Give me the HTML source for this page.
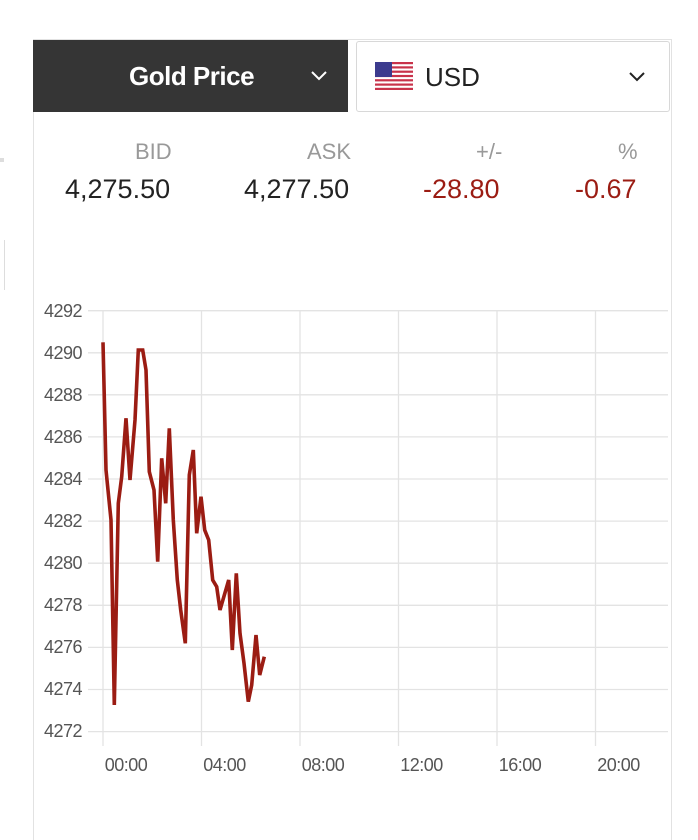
<!DOCTYPE html>
<html><head><style>
body{margin:0;width:698px;height:825px;background:#fff;font-family:"Liberation Sans",sans-serif;position:relative;overflow:hidden}
.panel{position:absolute;left:33px;top:39px;width:637px;height:800px;border:1px solid #e2e2e2;border-bottom:none}
.hdr{position:absolute;left:33px;top:40px;width:315px;height:72px;background:#353535;color:#fff}
.usd{position:absolute;left:356px;top:41px;width:312px;height:69px;border:1px solid #d8d8d8;border-radius:3px;background:#fff}
.lbl{position:absolute;font-size:22px;color:#999;top:139px}
.val{position:absolute;font-size:27px;color:#222;top:174px}
.red{color:#9b1c13}
</style></head><body>
<div style="position:absolute;left:0;top:158px;width:4px;height:4px;background:#ddd"></div>
<div style="position:absolute;left:0;top:240px;width:4px;height:50px;border-right:1px solid #ddd"></div>
<div class="panel"></div>
<div class="hdr"><span style="position:absolute;left:96px;top:21px;font-size:26px;font-weight:bold;letter-spacing:-0.5px">Gold Price</span>
<svg style="position:absolute;left:278px;top:31px" width="16" height="10"><polyline points="1,1 8,8 15,1" fill="none" stroke="#fff" stroke-width="2"/></svg></div>
<div class="usd">
<svg style="position:absolute;left:18px;top:20px" width="38" height="28"><rect width="38" height="28" fill="#fff"/><g fill="#c8324a"><rect y="0" width="38" height="2.2"/><rect y="4.3" width="38" height="2.2"/><rect y="8.6" width="38" height="2.2"/><rect y="12.9" width="38" height="2.2"/><rect y="17.2" width="38" height="2.2"/><rect y="21.5" width="38" height="2.2"/><rect y="25.8" width="38" height="2.2"/></g><rect width="17" height="15" fill="#3c3b8e"/></svg>
<span style="position:absolute;left:68px;top:20px;font-size:26px;color:#222">USD</span>
<svg style="position:absolute;left:272px;top:30px" width="16" height="10"><polyline points="1,1 8,8 15,1" fill="none" stroke="#222" stroke-width="2"/></svg></div>
<span class="lbl" style="left:135px">BID</span>
<span class="lbl" style="left:307px">ASK</span>
<span class="lbl" style="left:476px">+/-</span>
<span class="lbl" style="left:618px">%</span>
<span class="val" style="left:65px">4,275.50</span>
<span class="val" style="left:244px">4,277.50</span>
<span class="val red" style="left:423px">-28.80</span>
<span class="val red" style="left:575px">-0.67</span>
<svg style="position:absolute;left:0;top:0" width="698" height="825">
<g stroke="#e3e3e3" stroke-width="1.3">
<line x1="88" x2="668" y1="310.7" y2="310.7"/><line x1="88" x2="668" y1="352.8" y2="352.8"/><line x1="88" x2="668" y1="394.8" y2="394.8"/><line x1="88" x2="668" y1="436.9" y2="436.9"/><line x1="88" x2="668" y1="479" y2="479"/><line x1="88" x2="668" y1="521.1" y2="521.1"/><line x1="88" x2="668" y1="563.2" y2="563.2"/><line x1="88" x2="668" y1="605.3" y2="605.3"/><line x1="88" x2="668" y1="647.4" y2="647.4"/><line x1="88" x2="668" y1="689.5" y2="689.5"/><line x1="88" x2="668" y1="731.6" y2="731.6"/>
<line x1="103" x2="103" y1="310" y2="746"/><line x1="201.5" x2="201.5" y1="310" y2="746"/><line x1="300" x2="300" y1="310" y2="746"/><line x1="398.5" x2="398.5" y1="310" y2="746"/><line x1="497" x2="497" y1="310" y2="746"/><line x1="595.5" x2="595.5" y1="310" y2="746"/>
</g>
<g font-size="18" fill="#555" text-anchor="end" letter-spacing="-0.5">
<text x="82" y="317">4292</text><text x="82" y="359">4290</text><text x="82" y="401">4288</text><text x="82" y="443">4286</text><text x="82" y="485">4284</text><text x="82" y="527">4282</text><text x="82" y="569">4280</text><text x="82" y="611">4278</text><text x="82" y="653">4276</text><text x="82" y="695">4274</text><text x="82" y="737">4272</text>
</g>
<g font-size="18" fill="#555" text-anchor="middle" letter-spacing="-0.5">
<text x="126" y="771">00:00</text><text x="224.5" y="771">04:00</text><text x="323" y="771">08:00</text><text x="421.5" y="771">12:00</text><text x="520" y="771">16:00</text><text x="618.5" y="771">20:00</text>
</g>
<polyline fill="none" stroke="#9b1c13" stroke-width="3.6" stroke-linejoin="miter" points="103,342.3 106,470 111,520 114.3,705 118.3,503.3 121.7,476.7 126,418.3 130,480 135,420 138.3,350 142.7,350 146,370 149.3,471.7 154,490 157.7,561.7 161.7,458.3 165.7,503.3 169.3,428.3 173.3,520 177.3,580 180.7,610 185.3,643.3 189.3,475 193.3,450 196.7,533.3 201,496.7 204.7,530 208.7,540 212.7,580 216.7,586.7 220,610 228.7,580 232.3,650 236.3,573.3 240,633.3 244,663.3 248.3,701.7 251.7,685 256,635 259.7,675 264.3,656.7"/>
</svg>
</body></html>
